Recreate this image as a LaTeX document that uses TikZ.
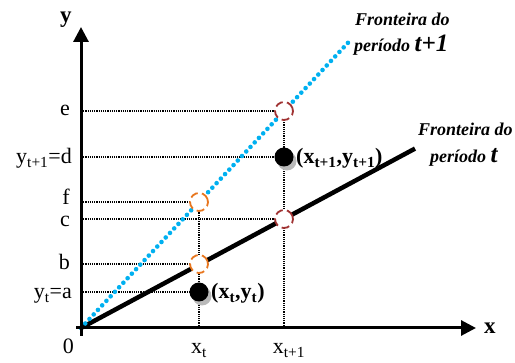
\documentclass[tikz,border=0pt]{standalone}
\usepackage{fontspec}
\setmainfont{Liberation Serif}
\usetikzlibrary{arrows.meta}
\definecolor{cyanpt}{RGB}{0,176,240}
\definecolor{orangec}{RGB}{232,118,30}
\definecolor{darkredc}{RGB}{160,50,50}
\definecolor{shadowc}{RGB}{185,185,185}
\tikzset{
  axisline/.style={line width=3pt,-{Triangle[width=15pt,length=15pt]}},
  gridline/.style={line width=1.3pt,dash pattern=on 1.1pt off 1.1pt},
  frontt/.style={line width=4.5pt},
  frontt1/.style={line width=4.6pt,color=cyanpt,line cap=round,dash pattern=on 0pt off 6.2pt},
  ring/.style={circle,minimum size=18pt,inner sep=0pt,fill=white,line width=1.8pt,dash pattern=on 8pt off 4.2pt},
  dotpt/.style={circle,minimum size=19pt,inner sep=0pt,fill=black},
  shad/.style={circle,minimum size=19pt,inner sep=0pt,fill=shadowc},
  lab/.style={inner sep=0pt,font=\fontsize{22}{24}\selectfont},
  blab/.style={inner sep=0pt,font=\fontsize{22}{24}\selectfont\bfseries},
  flab/.style={inner sep=0pt,font=\fontsize{18}{20}\selectfont\bfseries\itshape},
}
\begin{document}
\begin{tikzpicture}[x=1pt,y=-1pt]
\useasboundingbox (0,0) rectangle (515,363);
% key points
\coordinate (O) at (81,328);
\coordinate (Ytop) at (81,27);
\coordinate (Xend) at (476,328);
\coordinate (Tend) at (415,148.6);
\coordinate (T1end) at (352,38.5);
\coordinate (Ae) at (81,111);
\coordinate (Ad) at (81,157);
\coordinate (Af) at (81,202);
\coordinate (Ac) at (81,219);
\coordinate (Ab) at (81,264);
\coordinate (Aa) at (81,292);
\coordinate (Xt) at (199,328);
\coordinate (Xt1) at (284,328);
% grid lines
\draw[gridline] (Ae) -- (284,111);
\draw[gridline] (Ad) -- (284,157);
\draw[gridline] (Af) -- (199,202);
\draw[gridline] (Ac) -- (284,219);
\draw[gridline] (Ab) -- (199,264);
\draw[gridline] (Aa) -- (199,292);
\draw[gridline] (Xt) -- (199,202);
\draw[gridline] (Xt1) -- (284,111);
% frontiers
\draw[frontt] (O) -- (Tend);
\draw[frontt1] (O) -- (T1end);
% rings
\node[ring,draw=orangec,rotate=20] (rf) at (199,202) {};
\node[ring,draw=orangec,rotate=20] (rb) at (199,264) {};
\node[ring,draw=darkredc,rotate=20] (re) at (284,111) {};
\node[ring,draw=darkredc,rotate=20] (rc) at (284,219) {};
% points
\node[shad] at (202,296) {};
\node[dotpt] (pt) at (199,292) {};
\node[shad] at (287,161) {};
\node[dotpt] (pt1) at (284,157) {};
% axes
\draw[axisline] (81,336) -- (Ytop);
\draw[axisline] (76,328) -- (Xend);
% axis labels
\node[blab,font=\fontsize{23}{24}\selectfont\bfseries,anchor=base west] (ly) at (60,23) {y};
\node[blab,font=\fontsize{23}{24}\selectfont\bfseries,anchor=base west] (lx) at (484,334) {x};
\node[lab,anchor=base east] (l0) at (74,354) {0};
\node[lab,anchor=base] (lxt) at (199,354) {x\textsubscript{t}};
\node[lab,anchor=base] (lxt1) at (289,354) {x\textsubscript{t+1}};
\node[lab,anchor=base east] (le) at (70,116) {e};
\node[lab,anchor=base east] (ld) at (72,164) {y\textsubscript{t+1}=d};
\node[lab,anchor=base east] (lf) at (70,205) {f};
\node[lab,anchor=base east] (lc) at (70,227) {c};
\node[lab,anchor=base east] (lb) at (70,270) {b};
\node[lab,anchor=base east] (la) at (72,299) {y\textsubscript{t}=a};
% point labels
\node[blab,anchor=base west] (lpt) at (211,299) {(x\textsubscript{t},y\textsubscript{t})};
\node[blab,anchor=base west] (lpt1) at (296,164) {(x\textsubscript{t+1},y\textsubscript{t+1})};
% frontier labels
\node[flab,anchor=base west] (f1a) at (355,26) {Fronteira do};
\node[flab,anchor=base west] (f1b) at (354,52) {período {\fontsize{25}{26}\selectfont t+1}};
\node[flab,anchor=base west] (f2a) at (418,136) {Fronteira do};
\node[flab,anchor=base west] (f2b) at (430,163) {período {\fontsize{25}{26}\selectfont t}};
\end{tikzpicture}
\end{document}
